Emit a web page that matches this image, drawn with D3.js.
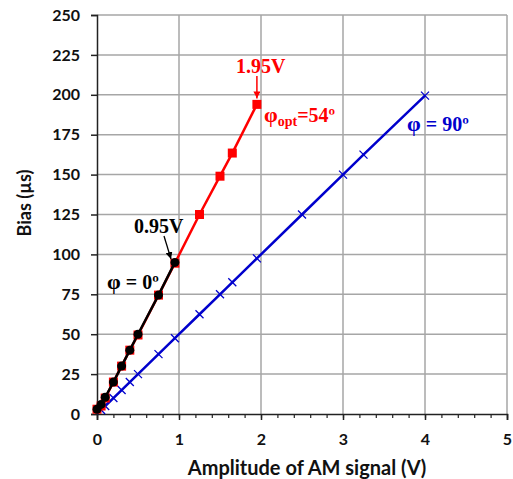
<!DOCTYPE html>
<html>
<head>
<meta charset="utf-8">
<script src="https://cdnjs.cloudflare.com/ajax/libs/d3/7.8.5/d3.min.js"></script>
<style>
  body { margin: 0; background: #fff; }
</style>
</head>
<body>
<div id="chart"></div>
<script>
// phi = 90 deg series (blue crosses)
var blueX = [0.05, 0.1, 0.2, 0.3, 0.4, 0.5, 0.75, 0.95, 1.25, 1.5, 1.65, 1.95, 2.5, 3, 3.25, 4];
var blueY = [2.5, 5, 10, 15, 20, 25, 37.5, 47.5, 62.5, 75, 82.5, 97.5, 125, 150, 162.5, 199.5];
// phi_opt = 54 deg series (red squares)
var redX = [0, 0.05, 0.1, 0.2, 0.3, 0.4, 0.5, 0.75, 0.95, 1.25, 1.5, 1.65, 1.95];
var redY = [3, 5, 10, 20, 30, 40, 49.5, 74.5, 94.5, 125, 149, 163.5, 194];
// phi = 0 deg series (black circles)
var blackX = [0, 0.05, 0.1, 0.2, 0.3, 0.4, 0.5, 0.75, 0.95];
var blackY = [3, 6, 10.5, 20, 30, 40, 50, 74.5, 95];

var xTicks = [0, 1, 2, 3, 4, 5];
var yTicks = [0, 25, 50, 75, 100, 125, 150, 175, 200, 225, 250];

function zip(xs, ys) {
    var out = [];
    for (var i = 0; i < xs.length; i++) {
        out.push({x: xs[i], y: ys[i]});
    }
    return out;
}

var width = 513, height = 479;
var svg = d3.select("#chart")
  .append("svg")
    .attr("width", width)
    .attr("height", height);

var x = d3.scaleLinear().domain([0, 5]).range([97, 507]);
var y = d3.scaleLinear().domain([0, 250]).range([414, 15]);

var sansBold = "Lato, 'Open Sans', sans-serif";
var serif = "'Liberation Serif', 'DejaVu Serif', serif";

// gridlines
svg.append("g")
  .selectAll("line")
  .data(yTicks.slice(1))
  .enter()
  .append("line")
    .attr("x1", x(0)).attr("x2", x(5))
    .attr("y1", function (d) { return y(d); })
    .attr("y2", function (d) { return y(d); })
    .attr("stroke", "#a6a6a6")
    .attr("stroke-width", 1.5);
svg.append("g")
  .selectAll("line")
  .data(xTicks.slice(1))
  .enter()
  .append("line")
    .attr("y1", y(0)).attr("y2", y(250))
    .attr("x1", function (d) { return x(d); })
    .attr("x2", function (d) { return x(d); })
    .attr("stroke", "#a6a6a6")
    .attr("stroke-width", 1.5);

// Y axis
var yAxis = svg.append("g")
  .attr("transform", "translate(" + x(0) + ",0)")
  .call(d3.axisLeft(y).tickValues(yTicks).tickSize(6).tickPadding(11));
yAxis.select(".domain").attr("stroke", "#222").attr("stroke-width", 1.5);
yAxis.selectAll(".tick line").attr("stroke", "#222").attr("stroke-width", 1.5);
yAxis.selectAll("text")
  .style("font-family", sansBold)
  .style("font-weight", "bold")
  .style("font-size", "16px")
  .attr("fill", "#111");

// X axis with minor ticks
var minor = d3.range(0, 5.001, 0.2);
var xMinor = svg.append("g")
  .attr("transform", "translate(0," + y(0) + ")")
  .call(d3.axisBottom(x).tickValues(minor).tickSize(4).tickFormat(""));
xMinor.select(".domain").remove();
xMinor.selectAll(".tick line").attr("stroke", "#222").attr("stroke-width", 1.2);

var xAxis = svg.append("g")
  .attr("transform", "translate(0," + y(0) + ")")
  .call(d3.axisBottom(x).tickValues(xTicks).tickSize(6).tickPadding(14).tickFormat(d3.format("d")));
xAxis.select(".domain").attr("stroke", "#222").attr("stroke-width", 1.5);
xAxis.selectAll(".tick line").attr("stroke", "#222").attr("stroke-width", 1.5);
xAxis.selectAll("text")
  .style("font-family", sansBold)
  .style("font-weight", "bold")
  .style("font-size", "16px")
  .attr("fill", "#111");

// axis titles
svg.append("text")
  .attr("transform", "translate(31,203) rotate(-90)")
  .style("text-anchor", "middle")
  .style("font-family", sansBold)
  .style("font-weight", "bold")
  .style("font-size", "18px")
  .attr("fill", "#111")
  .text("Bias (\u00b5s)");
svg.append("text")
  .attr("x", 307)
  .attr("y", 475)
  .style("text-anchor", "middle")
  .style("font-family", sansBold)
  .style("font-weight", "bold")
  .style("font-size", "20px")
  .attr("fill", "#111")
  .text("Amplitude  of AM  signal (V)");

var line = d3.line()
  .x(function (d) { return x(d.x); })
  .y(function (d) { return y(d.y); });

// blue series
var blueData = zip(blueX, blueY);
svg.append("path")
  .datum(blueData)
  .attr("d", line)
  .attr("fill", "none")
  .attr("stroke", "#0000cc")
  .attr("stroke-width", 2.5);
svg.append("g")
  .selectAll("path")
  .data(blueData)
  .enter()
  .append("path")
    .attr("transform", function (d) { return "translate(" + x(d.x) + "," + y(d.y) + ")"; })
    .attr("d", "M-4,-4L4,4M-4,4L4,-4")
    .attr("stroke", "#0000cc")
    .attr("stroke-width", 1.3);

// red series
var redData = zip(redX, redY);
svg.append("path")
  .datum(redData)
  .attr("d", line)
  .attr("fill", "none")
  .attr("stroke", "#ff0000")
  .attr("stroke-width", 2.5);
svg.append("g")
  .selectAll("rect")
  .data(redData)
  .enter()
  .append("rect")
    .attr("x", function (d) { return x(d.x) - 4.5; })
    .attr("y", function (d) { return y(d.y) - 4.5; })
    .attr("width", 9)
    .attr("height", 9)
    .attr("fill", "#ff0000");

// black series
var blackData = zip(blackX, blackY);
svg.append("path")
  .datum(blackData)
  .attr("d", line)
  .attr("fill", "none")
  .attr("stroke", "#000")
  .attr("stroke-width", 2.5);
svg.append("g")
  .selectAll("circle")
  .data(blackData)
  .enter()
  .append("circle")
    .attr("cx", function (d) { return x(d.x); })
    .attr("cy", function (d) { return y(d.y); })
    .attr("r", 4.5)
    .attr("fill", "#000");

// arrow heads
var defs = svg.append("defs");
function addMarker(id, colour) {
    defs.append("marker")
      .attr("id", id)
      .attr("viewBox", "0 0 10 10")
      .attr("refX", 10).attr("refY", 5)
      .attr("markerWidth", 7).attr("markerHeight", 7)
      .attr("markerUnits", "userSpaceOnUse")
      .attr("orient", "auto")
      .append("path")
        .attr("d", "M0,0L10,5L0,10z")
        .attr("fill", colour);
}
addMarker("arrRed", "#ff0000");
addMarker("arrBlack", "#000");

// annotations
svg.append("text")
  .attr("x", 236).attr("y", 73)
  .style("font-family", serif).style("font-weight", "bold").style("font-size", "20px")
  .attr("fill", "#ff0000")
  .text("1.95V");
svg.append("line")
  .attr("x1", x(1.95)).attr("x2", x(1.95))
  .attr("y1", 76).attr("y2", y(194) - 6)
  .attr("stroke", "#ff0000").attr("stroke-width", 1.5)
  .attr("marker-end", "url(#arrRed)");

var opt = svg.append("text")
  .attr("x", 264).attr("y", 122)
  .style("font-family", serif).style("font-weight", "bold").style("font-size", "20px")
  .attr("fill", "#ff0000");
opt.append("tspan").style("font-size", "22px").text("\u03c6");
opt.append("tspan").attr("dy", 4).style("font-size", "14px").text("opt");
opt.append("tspan").attr("dy", -4).text("=54\u00ba");

var ninety = svg.append("text")
  .attr("x", 407).attr("y", 131)
  .style("font-family", serif).style("font-weight", "bold").style("font-size", "20px")
  .attr("fill", "#0000cc");
ninety.append("tspan").style("font-size", "22px").text("\u03c6");
ninety.append("tspan").text(" = 90\u00ba");

svg.append("text")
  .attr("x", 134).attr("y", 233)
  .style("font-family", serif).style("font-weight", "bold").style("font-size", "20px")
  .attr("fill", "#000")
  .text("0.95V");
svg.append("line")
  .attr("x1", 164).attr("y1", 236)
  .attr("x2", 171).attr("y2", 259)
  .attr("stroke", "#000").attr("stroke-width", 1.3)
  .attr("marker-end", "url(#arrBlack)");

var zero = svg.append("text")
  .attr("x", 107).attr("y", 289)
  .style("font-family", serif).style("font-weight", "bold").style("font-size", "20px")
  .attr("fill", "#000");
zero.append("tspan").style("font-size", "22px").text("\u03c6");
zero.append("tspan").text(" = 0\u00ba");
</script>
</body>
</html>
